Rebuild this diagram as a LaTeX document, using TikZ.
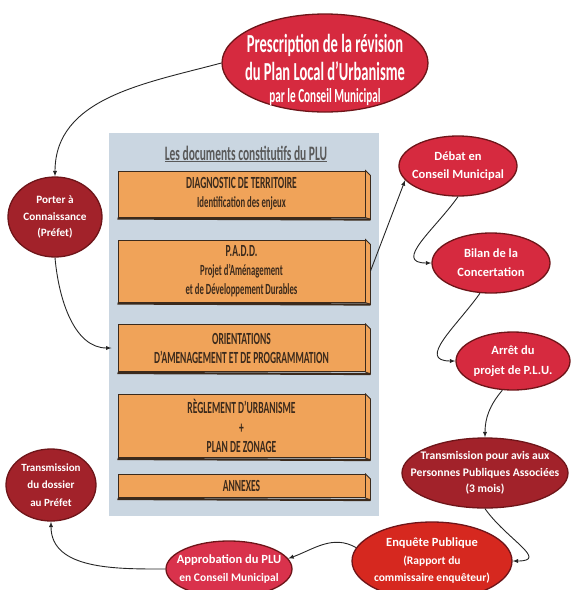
\documentclass[tikz,border=0pt]{standalone}
\usepackage{fontspec}
\setmainfont{Carlito}
\newfontfamily\agency[FakeStretch=0.56]{Carlito}
\usetikzlibrary{arrows,shapes.geometric}

\definecolor{rouge}{HTML}{D62A3F}
\definecolor{rougerose}{HTML}{D9324C}
\definecolor{rougefonce}{HTML}{A2222A}
\definecolor{rougevif}{HTML}{D6281F}
\definecolor{bord}{HTML}{6E1519}
\definecolor{panneau}{HTML}{CAD6E1}
\definecolor{docorange}{HTML}{F0A359}
\definecolor{docbord}{HTML}{3B2A1C}

\begin{document}
\begin{tikzpicture}[>=latex, x=1pt, y=1pt,
  etape/.style={ellipse, draw=bord, line width=1.3pt, fill=rouge, text=white, inner sep=-30pt,
    align=center, font=\bfseries\fontsize{12.5}{18}\selectfont},
  doc/.style={rectangle, draw=docbord, line width=1pt, fill=docorange, minimum width=247,
    inner sep=0pt, align=center, text=docbord, font=\agency\bfseries\fontsize{17}{19}\selectfont},
  lien/.style={->, line width=0.9pt, black!85}]

\useasboundingbox (0,0) rectangle (571,-590);

\node[fill=panneau, minimum width=270, minimum height=383, inner sep=0pt] (panneau) at (244,-324.5) {};
\node[text=black!65, font=\agency\bfseries\fontsize{20.5}{22}\selectfont] (titre) at (246,-154)
  {\underline{Les documents constitutifs du PLU}};

\node[doc, minimum height=46] (diag) at (241.5,-194)
  {DIAGNOSTIC DE TERRITOIRE\\{\agency\bfseries\fontsize{15.5}{18}\selectfont Identification des enjeux}};
\node[doc, minimum height=62] (padd) at (241.5,-271)
  {P.A.D.D.\\{\agency\bfseries\fontsize{15.5}{17.5}\selectfont Projet d’Aménagement}\\{\agency\bfseries\fontsize{15.5}{17.5}\selectfont et de Développement Durables}};
\node[doc, minimum height=47] (oap) at (241.5,-348)
  {ORIENTATIONS\\D’AMENAGEMENT ET DE PROGRAMMATION};
\node[doc, minimum height=63, font=\agency\bfseries\fontsize{17}{19.5}\selectfont] (regl) at (241.5,-426)
  {RÈGLEMENT D’URBANISME\\+\\PLAN DE ZONAGE};
\node[doc, minimum height=23] (annex) at (241.5,-486) {ANNEXES};

\foreach \b in {diag,padd,oap,regl,annex} {
  \draw[docbord, fill=docorange, line width=0.8pt] (\b.north east) -- ++(5,-5)
    -- ([shift={(5,-2)}]\b.south east) -- (\b.south east) -- cycle;
  \draw[docbord, line width=2.2pt] ([yshift=-1]\b.south west) -- ([shift={(5,-2)}]\b.south east);
}

\node[etape, minimum width=206, minimum height=98, font=\agency\bfseries\fontsize{26}{27.5}\selectfont] (prescription) at (325,-63)
  {\rule{0pt}{33pt}Prescription de la révision\\du Plan Local d’Urbanisme\\[-5pt]{\fontsize{20}{22}\selectfont par le Conseil Municipal}};
\node[etape, fill=rougefonce, minimum width=94, minimum height=80, font=\bfseries\fontsize{11.2}{16.5}\selectfont] (pac) at (55,-217)
  {Porter à\\Connaissance\\(Préfet)};
\node[etape, minimum width=118, minimum height=60] (debat) at (458,-166)
  {Débat en\\Conseil Municipal};
\node[etape, minimum width=118, minimum height=60, font=\bfseries\fontsize{12.5}{19}\selectfont] (bilan) at (491,-263)
  {Bilan de la\\Concertation};
\node[etape, minimum width=114, minimum height=58, font=\bfseries\fontsize{12.5}{20}\selectfont] (arret) at (513,-361)
  {Arrêt du\\projet de P.L.U.};
\node[etape, fill=rougefonce, minimum width=166, minimum height=70, font=\bfseries\fontsize{11.6}{16.5}\selectfont] (ppa) at (485,-473)
  {Transmission pour avis aux\\Personnes Publiques Associées\\(3 mois)};
\node[etape, fill=rougevif, minimum width=160, minimum height=78, font=\bfseries\fontsize{11.5}{17.5}\selectfont] (enquete) at (432,-561)
  {{\fontsize{12.5}{17.5}\selectfont Enquête Publique}\\(Rapport du\\commissaire enquêteur)};
\node[etape, fill=rougerose, minimum width=126, minimum height=56, font=\bfseries\fontsize{11.5}{18}\selectfont] (approb) at (229,-569)
  {{\fontsize{12.5}{18}\selectfont Approbation du PLU}\\en Conseil Municipal};
\node[etape, fill=rougefonce, minimum width=90, minimum height=72, font=\bfseries\fontsize{11}{17.5}\selectfont] (transm) at (51,-485)
  {Transmission\\du dossier\\au Préfet};

\draw[lien] (prescription.west) to[out=195, in=90] (pac.north);
\draw[lien, shorten >=6pt] (pac.south) to[out=-85, in=180] (oap.west);
\draw[lien] ([xshift=5]padd.east) -- (debat.195);
\draw[lien] (debat.south) to[out=-125, in=180, looseness=1.4] (bilan.west);
\draw[lien] (bilan.250) to[out=-125, in=180, looseness=1.4] (arret.west);
\draw[lien] (arret.250) to[out=-130, in=90] (ppa.north);
\draw[lien] (ppa.south) to[out=-55, in=0, looseness=1.6] (enquete.east);
\draw[lien] (enquete.170) to[out=150, in=20] (approb.10);
\draw[lien] (approb.west) to[out=180, in=-90] (transm.south);

\end{tikzpicture}
\end{document}
